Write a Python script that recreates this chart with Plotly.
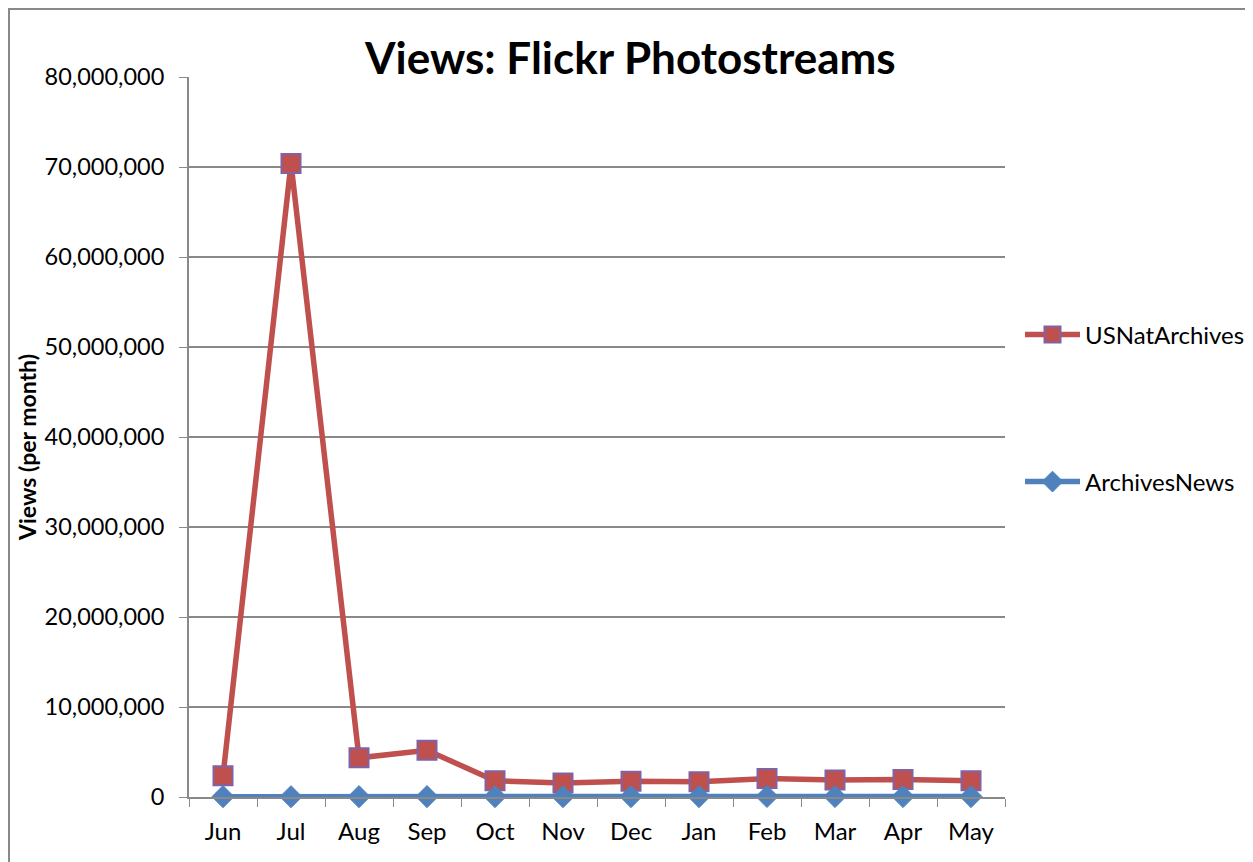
import plotly.graph_objects as go

months = ["Jun", "Jul", "Aug", "Sep", "Oct", "Nov", "Dec", "Jan", "Feb", "Mar", "Apr", "May"]
us_nat_archives = [2350000, 70400000, 4350000, 5200000, 1800000, 1550000, 1750000, 1700000, 2050000, 1900000, 1950000, 1800000]
archives_news = [40000, 35000, 38000, 42000, 45000, 40000, 45000, 42000, 60000, 50000, 48000, 45000]

OFF = 8  # browser default body margin
W, H = 1253 - OFF, 862 - OFF
L, R, T, B = 189 - OFF, 1005 - OFF, 77 - OFF, 797 - OFF

FONT = "Lato"
GRAY = "#898989"

fig = go.Figure()
fig.add_trace(go.Scatter(
    x=months, y=us_nat_archives, name="USNatArchives", mode="lines+markers",
    line=dict(color="#C0504D", width=5.5),
    marker=dict(symbol="square", size=19, color="#C0504D", line=dict(color="#7F63A6", width=2)),
    legend="legend", cliponaxis=False,
))
fig.add_trace(go.Scatter(
    x=months, y=archives_news, name="ArchivesNews", mode="lines+markers",
    line=dict(color="#4F81BD", width=5.5),
    marker=dict(symbol="diamond", size=17, color="#4F81BD", line=dict(color="#4F81BD", width=1)),
    legend="legend2", cliponaxis=False,
))

def px_x(p):
    return (p - OFF - L) / (R - L)

def px_y(p):
    return (B - (p - OFF)) / (B - T)

def cx(p):
    return (p - OFF) / W

def cy(p):
    return 1 - (p - OFF) / H

fig.update_layout(
    width=W, height=H,
    margin=dict(l=L, r=W - R, t=T, b=H - B, pad=0, autoexpand=False),
    paper_bgcolor="white", plot_bgcolor="white",
    font=dict(family=FONT, size=24, color="black"),
    showlegend=True,
    legend=dict(xref="container", yref="container", x=cx(1020), y=cy(335),
                xanchor="left", yanchor="middle",
                font=dict(family=FONT, size=24, color="black"), itemwidth=55,
                bgcolor="rgba(0,0,0,0)"),
    legend2=dict(xref="container", yref="container", x=cx(1020), y=cy(482),
                 xanchor="left", yanchor="middle",
                 font=dict(family=FONT, size=24, color="black"), itemwidth=55,
                 bgcolor="rgba(0,0,0,0)"),
    xaxis=dict(
        type="category", range=[-0.5, 11.5], tickson="boundaries",
        ticks="outside", ticklen=8, tickcolor=GRAY, tickwidth=1,
        showline=True, linecolor=GRAY, linewidth=2, showgrid=False,
        tickfont=dict(family=FONT, size=24, color="black"),
        ticklabelstandoff=12,
        fixedrange=True,
    ),
    yaxis=dict(
        range=[0, 80000000], dtick=10000000, tickformat=",d",
        ticks="outside", ticklen=8, tickcolor=GRAY, tickwidth=1,
        showline=True, linecolor=GRAY, linewidth=2,
        showgrid=True, gridcolor=GRAY, gridwidth=1.5, zeroline=False,
        tickfont=dict(family=FONT, size=23.5, color="black"),
        ticklabelstandoff=10,
    ),
    annotations=[
        dict(text="<b>Views (per month)</b>", xref="paper", yref="paper",
             x=px_x(27), y=px_y(448), xanchor="center", yanchor="middle", showarrow=False,
             textangle=-90, font=dict(family=FONT, size=23, color="black")),
        dict(text="<b>Views: Flickr Photostreams</b>", xref="paper", yref="paper",
             x=px_x(630), y=px_y(57), xanchor="center", yanchor="middle", showarrow=False,
             font=dict(family=FONT, size=44, color="black")),
    ],
    shapes=[
        dict(type="rect", xref="paper", yref="paper",
             x0=px_x(9), y0=px_y(875), x1=px_x(1265), y1=px_y(9),
             line=dict(color=GRAY, width=2), fillcolor="rgba(0,0,0,0)", layer="below"),
    ],
)

fig.write_html("out.html")
